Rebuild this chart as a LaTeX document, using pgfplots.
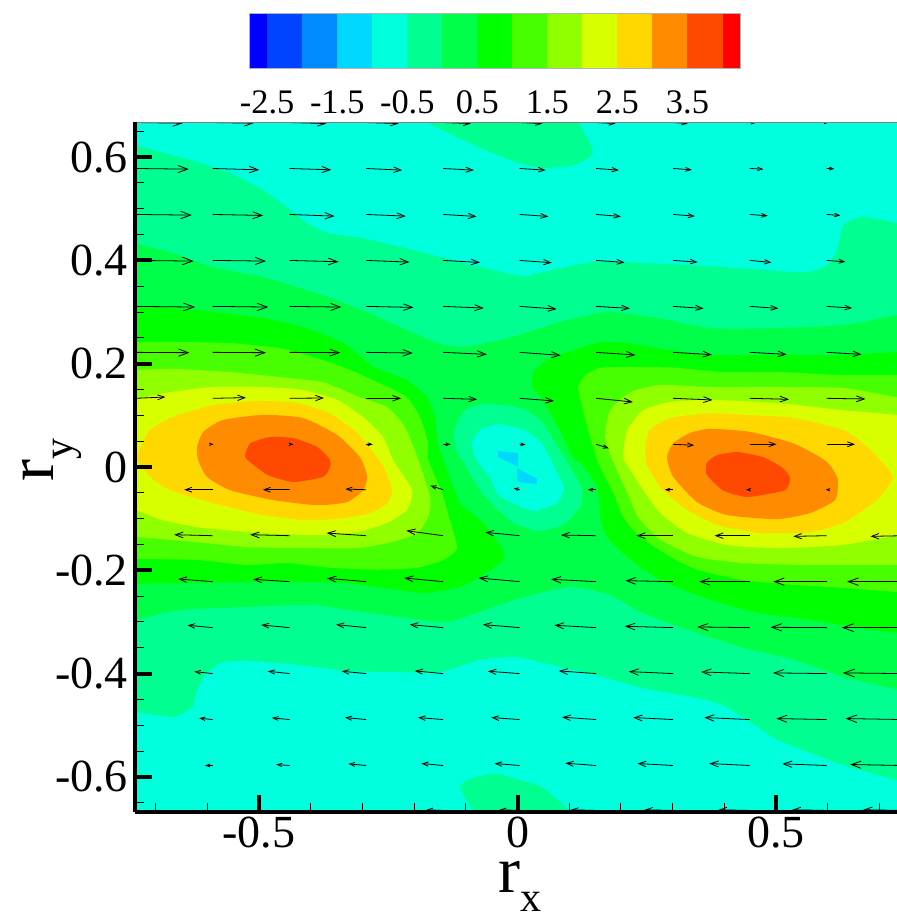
\documentclass[border=0pt]{standalone}
\usepackage{fontspec}
\setmainfont{Liberation Serif}
\usepackage{pgfplots}
\pgfplotsset{compat=1.18}
\usepackage{pgfplotstable}
\usetikzlibrary{arrows.meta}
\definecolor{c1}{HTML}{0000FF}\definecolor{c2}{HTML}{0044FF}\definecolor{c3}{HTML}{008CFF}
\definecolor{c4}{HTML}{00D8FF}\definecolor{c5}{HTML}{00FFDD}\definecolor{c6}{HTML}{00FF90}
\definecolor{c7}{HTML}{00FF48}\definecolor{c8}{HTML}{00FF00}\definecolor{c9}{HTML}{48FF00}
\definecolor{c10}{HTML}{90FF00}\definecolor{c11}{HTML}{D8FF00}\definecolor{c12}{HTML}{FFD800}
\definecolor{c13}{HTML}{FF8C00}\definecolor{c14}{HTML}{FF4800}\definecolor{c15}{HTML}{FF0000}
\pgfplotstableread{
x y u v
-0.738 0.667 140 -2
-0.590 0.667 123 -2
-0.441 0.667 110 -3
-0.293 0.667 97 -3
-0.144 0.667 83 -3
0.004 0.667 68 -3
0.152 0.667 58 -3
0.301 0.667 43 -3
0.449 0.667 18 -1
0.598 0.667 5 0
-0.738 0.578 158 -2
-0.590 0.578 140 -4
-0.441 0.578 125 -4
-0.293 0.578 108 -5
-0.144 0.578 92 -5
0.004 0.578 78 -5
0.152 0.578 68 -5
0.301 0.578 56 -4
0.449 0.578 41 -2
0.598 0.578 23 -1
-0.738 0.489 167 -2
-0.590 0.489 152 -3
-0.441 0.489 135 -5
-0.293 0.489 119 -5
-0.144 0.489 100 -6
0.004 0.489 86 -6
0.152 0.489 74 -6
0.301 0.489 65 -5
0.449 0.489 54 -4
0.598 0.489 41 -3
-0.738 0.400 173 -2
-0.590 0.400 160 -2
-0.441 0.400 147 -4
-0.293 0.400 130 -5
-0.144 0.400 110 -6
0.004 0.400 96 -7
0.152 0.400 85 -6
0.301 0.400 73 -5
0.449 0.400 65 -6
0.598 0.400 56 -4
-0.738 0.311 177 -2
-0.590 0.311 167 -2
-0.441 0.311 155 -2
-0.293 0.311 142 -3
-0.144 0.311 122 -5
0.004 0.311 111 -8
0.152 0.311 101 -6
0.301 0.311 91 -6
0.449 0.311 86 -6
0.598 0.311 76 -5
-0.738 0.222 160 -1
-0.590 0.222 160 -1
-0.441 0.222 152 -1
-0.293 0.222 140 -2
-0.144 0.222 131 -6
0.004 0.222 123 -9
0.152 0.222 118 -8
0.301 0.222 116 -7
0.449 0.222 111 -6
0.598 0.222 104 -6
-0.738 0.133 88 4
-0.590 0.133 100 2
-0.441 0.133 103 1
-0.293 0.133 105 0
-0.144 0.133 102 -3
0.004 0.133 103 -8
0.152 0.133 110 -11
0.301 0.133 118 -5
0.449 0.133 118 -3
0.598 0.133 116 -2
-0.590 0.044 3 0
-0.441 0.044 12 0
-0.293 0.044 20 0
-0.144 0.044 23 0
0.004 0.044 18 -1
0.152 0.044 38 -12
0.301 0.044 63 -3
0.449 0.044 80 0
0.598 0.044 85 0
-0.590 -0.044 -85 0
-0.441 -0.044 -80 0
-0.293 -0.044 -62 2
-0.144 -0.044 -38 12
0.004 -0.044 -18 5
0.152 -0.044 -25 0
0.301 -0.044 -25 0
0.449 -0.044 -11 0
0.598 -0.044 -3 0
-0.590 -0.133 -115 3
-0.441 -0.133 -118 3
-0.293 -0.133 -118 8
-0.144 -0.133 -110 15
0.004 -0.133 -103 10
0.152 -0.133 -105 2
0.301 -0.133 -110 0
0.449 -0.133 -105 0
0.598 -0.133 -100 -2
0.746 -0.133 -98 -2
-0.590 -0.222 -103 8
-0.441 -0.222 -110 7
-0.293 -0.222 -117 10
-0.144 -0.222 -117 11
0.004 -0.222 -123 11
0.152 -0.222 -135 7
0.301 -0.222 -143 3
0.449 -0.222 -151 0
0.598 -0.222 -160 0
0.746 -0.222 -168 0
-0.590 -0.311 -75 7
-0.441 -0.311 -85 8
-0.293 -0.311 -90 9
-0.144 -0.311 -100 9
0.004 -0.311 -110 9
0.152 -0.311 -125 7
0.301 -0.311 -145 4
0.449 -0.311 -157 2
0.598 -0.311 -168 1
0.746 -0.311 -184 0
-0.590 -0.400 -55 6
-0.441 -0.400 -65 7
-0.293 -0.400 -73 7
-0.144 -0.400 -85 8
0.004 -0.400 -95 7
0.152 -0.400 -112 8
0.301 -0.400 -133 6
0.449 -0.400 -146 5
0.598 -0.400 -161 2
0.746 -0.400 -181 2
-0.590 -0.489 -40 4
-0.441 -0.489 -53 5
-0.293 -0.489 -63 6
-0.144 -0.489 -75 6
0.004 -0.489 -85 6
0.152 -0.489 -102 7
0.301 -0.489 -120 6
0.449 -0.489 -136 6
0.598 -0.489 -151 3
0.746 -0.489 -173 3
-0.590 -0.578 -23 0
-0.441 -0.578 -40 3
-0.293 -0.578 -53 5
-0.144 -0.578 -65 6
0.004 -0.578 -75 6
0.152 -0.578 -92 7
0.301 -0.578 -107 6
0.449 -0.578 -121 6
0.598 -0.578 -133 5
0.746 -0.578 -159 3
-0.144 -0.665 -50 2
0.004 -0.665 -60 2
0.152 -0.665 -75 2
0.301 -0.665 -85 2
0.449 -0.665 -93 2
0.598 -0.665 -103 2
0.746 -0.665 -120 2
}\arrowdata
\pgfplotsset{lev/.style={fill=#1,draw=none,smooth cycle,tension=0.35}}
\begin{document}
\begin{tikzpicture}
\useasboundingbox (0,0) rectangle (448.5pt,457.5pt);
\begin{axis}[
  at={(67.5pt,51.5pt)},anchor=south west,
  scale only axis,width=381pt,height=345pt,
  xmin=-0.740,xmax=0.734,ymin=-0.668,ymax=0.668,
  axis x line*=bottom,axis y line*=left,
  axis line style={line width=2pt,-},
  axis on top,
  tick align=inside,
  xtick={-0.5,0,0.5},xticklabels={-0.5,0,0.5},
  ytick={-0.6,-0.4,-0.2,0,0.2,0.4,0.6},yticklabels={-0.6,-0.4,-0.2,0,0.2,0.4,0.6},
  minor xtick={-0.7,-0.6,-0.4,-0.3,-0.2,-0.1,0.1,0.2,0.3,0.4,0.6,0.7},
  minor ytick={-0.65,-0.55,-0.5,-0.45,-0.35,-0.3,-0.25,-0.15,-0.1,-0.05,0.05,0.1,0.15,0.25,0.3,0.35,0.45,0.5,0.55,0.65},
  major tick length=8.5pt,minor tick length=4.5pt,
  major tick style={line width=2pt,black},
  minor tick style={line width=0.5pt,black},
  ticklabel style={font=\fontsize{23}{26}\selectfont},
  xticklabel style={yshift=1pt},
  yticklabel style={xshift=0pt},
  xlabel={\fontsize{33}{33}\selectfont r\raisebox{-9.5pt}{\fontsize{21}{21}\selectfont x}},
  ylabel={\fontsize{33}{33}\selectfont r\raisebox{-9.5pt}{\fontsize{21}{21}\selectfont y}},
  xlabel style={at={(axis description cs:0.476,-0.116)},anchor=base west,inner sep=0pt},
  ylabel style={at={(axis description cs:-0.1076,0.478)},anchor=base west,inner sep=0pt},
]
% background level
\addplot[fill=c5,draw=none] coordinates {(-0.80,-0.70)(0.80,-0.70)(0.80,0.70)(-0.80,0.70)} --cycle;
% level c6
\addplot[lev=c6] coordinates {(-0.74,0.623)(-0.633,0.594)(-0.556,0.569)(-0.492,0.536)(-0.446,0.503)(-0.407,0.472)(-0.368,0.453)(-0.299,0.443)(-0.202,0.420)(-0.105,0.395)(0.005,0.370)(0.038,0.375)(0.146,0.397)(0.243,0.395)(0.372,0.389)(0.552,0.377)(0.599,0.391)(0.618,0.420)(0.630,0.468)(0.668,0.484)(0.734,0.472)(0.79,0.462)(0.86,0)(0.79,-0.615)(0.734,-0.606)(0.630,-0.577)(0.502,-0.528)(0.450,-0.493)(0.397,-0.461)(0.347,-0.447)(0.243,-0.428)(0.146,-0.402)(0.049,-0.379)(-0.001,-0.368)(-0.073,-0.373)(-0.150,-0.397)(-0.233,-0.397)(-0.330,-0.395)(-0.426,-0.383)(-0.523,-0.375)(-0.575,-0.379)(-0.608,-0.406)(-0.624,-0.445)(-0.630,-0.466)(-0.668,-0.484)(-0.74,-0.474)(-0.79,-0.47)(-0.86,0)(-0.79,0.635)};
\addplot[lev=c6] coordinates {(-0.21,0.70)(-0.175,0.668)(-0.105,0.633)(-0.040,0.604)(0.005,0.588)(0.049,0.579)(0.107,0.584)(0.144,0.604)(0.140,0.627)(0.117,0.668)(0.10,0.70)};
\addplot[lev=c6] coordinates {(-0.111,-0.621)(-0.078,-0.600)(-0.040,-0.594)(0.005,-0.606)(0.049,-0.621)(0.098,-0.664)(0.13,-0.70)(-0.05,-0.70)};
% level c7
\addplot[lev=c7] coordinates {(-0.74,0.433)(-0.666,0.414)(-0.589,0.387)(-0.492,0.368)(-0.426,0.348)(-0.349,0.323)(-0.279,0.294)(-0.214,0.265)(-0.156,0.240)(-0.105,0.232)(-0.053,0.242)(-0.005,0.253)(0.082,0.281)(0.173,0.300)(0.276,0.288)(0.372,0.269)(0.502,0.269)(0.630,0.275)(0.734,0.294)(0.79,0.304)(0.86,0)(0.79,-0.44)(0.734,-0.431)(0.630,-0.406)(0.533,-0.373)(0.436,-0.350)(0.339,-0.319)(0.243,-0.283)(0.179,-0.248)(0.107,-0.232)(0.049,-0.242)(-0.005,-0.257)(-0.053,-0.273)(-0.136,-0.300)(-0.214,-0.292)(-0.299,-0.281)(-0.401,-0.267)(-0.523,-0.271)(-0.653,-0.277)(-0.74,-0.296)(-0.79,-0.30)(-0.86,0)(-0.79,0.44)};
% level c8
\addplot[lev=c8] coordinates {(-0.74,0.313)(-0.620,0.304)(-0.492,0.288)(-0.415,0.271)(-0.337,0.240)(-0.279,0.194)(-0.214,0.168)(-0.175,0.135)(-0.160,0.097)(-0.154,0.046)(-0.140,0.004)(-0.111,-0.070)(-0.067,-0.108)(-0.028,-0.161)(-0.028,-0.180)(-0.067,-0.209)(-0.111,-0.232)(-0.183,-0.244)(-0.260,-0.234)(-0.337,-0.224)(-0.426,-0.223)(-0.523,-0.223)(-0.74,-0.226)(-0.79,-0.226)(-0.86,0.04)(-0.79,0.313)};
\addplot[lev=c8] coordinates {(0.734,0.223)(0.630,0.217)(0.502,0.217)(0.386,0.217)(0.295,0.226)(0.212,0.240)(0.160,0.242)(0.107,0.226)(0.057,0.207)(0.030,0.182)(0.028,0.155)(0.049,0.130)(0.078,0.077)(0.107,0.019)(0.125,0.004)(0.154,-0.039)(0.160,-0.097)(0.173,-0.135)(0.212,-0.174)(0.276,-0.219)(0.372,-0.257)(0.469,-0.283)(0.566,-0.296)(0.662,-0.312)(0.734,-0.321)(0.79,-0.325)(0.86,-0.05)(0.79,0.223)};
% level c9
\addplot[lev=c9] coordinates {(-0.74,0.242)(-0.653,0.242)(-0.556,0.240)(-0.459,0.230)(-0.388,0.211)(-0.324,0.188)(-0.260,0.159)(-0.214,0.135)(-0.189,0.097)(-0.173,0.046)(-0.173,0.014)(-0.146,-0.050)(-0.131,-0.103)(-0.117,-0.157)(-0.144,-0.180)(-0.194,-0.195)(-0.272,-0.199)(-0.363,-0.195)(-0.446,-0.186)(-0.523,-0.190)(-0.620,-0.180)(-0.74,-0.178)(-0.79,-0.178)(-0.86,0.03)(-0.79,0.242)};
\addplot[lev=c9] coordinates {(0.734,0.178)(0.630,0.178)(0.502,0.184)(0.397,0.184)(0.308,0.192)(0.231,0.194)(0.160,0.192)(0.131,0.178)(0.117,0.155)(0.125,0.116)(0.140,0.058)(0.156,0.008)(0.185,-0.050)(0.204,-0.097)(0.237,-0.135)(0.295,-0.174)(0.347,-0.199)(0.436,-0.219)(0.533,-0.228)(0.630,-0.234)(0.734,-0.242)(0.79,-0.244)(0.86,-0.03)(0.79,0.178)};
% level c10
\addplot[lev=c10] coordinates {(-0.74,0.188)(-0.666,0.190)(-0.556,0.184)(-0.459,0.174)(-0.376,0.164)(-0.305,0.135)(-0.252,0.116)(-0.218,0.077)(-0.194,0.019)(-0.169,-0.058)(-0.173,-0.097)(-0.194,-0.128)(-0.241,-0.145)(-0.310,-0.157)(-0.415,-0.157)(-0.523,-0.155)(-0.628,-0.145)(-0.74,-0.135)(-0.79,-0.13)(-0.86,0.03)(-0.79,0.185)};
\addplot[lev=c10] coordinates {(0.734,0.135)(0.630,0.153)(0.502,0.155)(0.372,0.155)(0.276,0.159)(0.218,0.145)(0.179,0.110)(0.169,0.058)(0.183,0.014)(0.212,-0.050)(0.233,-0.097)(0.276,-0.141)(0.347,-0.174)(0.436,-0.186)(0.566,-0.190)(0.734,-0.190)(0.79,-0.190)(0.86,-0.03)(0.79,0.125)};
% level c11
\addplot[lev=c11] coordinates {(-0.74,0.130)(-0.686,0.143)(-0.589,0.155)(-0.492,0.155)(-0.415,0.149)(-0.349,0.130)(-0.299,0.097)(-0.260,0.058)(-0.241,0.014)(-0.204,-0.045)(-0.214,-0.083)(-0.252,-0.108)(-0.310,-0.126)(-0.388,-0.132)(-0.492,-0.128)(-0.608,-0.118)(-0.686,-0.103)(-0.74,-0.083)(-0.79,-0.07)(-0.86,0.02)(-0.79,0.12)};
\addplot[lev=c11] coordinates {(0.734,0.101)(0.630,0.110)(0.502,0.124)(0.372,0.130)(0.295,0.126)(0.243,0.110)(0.212,0.072)(0.204,0.019)(0.218,-0.006)(0.243,-0.045)(0.276,-0.089)(0.328,-0.128)(0.405,-0.151)(0.502,-0.157)(0.630,-0.151)(0.734,-0.132)(0.79,-0.125)(0.86,-0.02)(0.79,0.095)};
% level c12
\addplot[lev=c12] coordinates {(-0.733,0.030)(-0.711,0.072)(-0.666,0.097)(-0.589,0.120)(-0.504,0.128)(-0.426,0.124)(-0.363,0.104)(-0.310,0.066)(-0.272,0.019)(-0.256,-0.006)(-0.243,-0.045)(-0.252,-0.070)(-0.285,-0.089)(-0.337,-0.099)(-0.407,-0.103)(-0.492,-0.093)(-0.589,-0.070)(-0.672,-0.045)(-0.711,-0.019)(-0.736,0.014)};
\addplot[lev=c12] coordinates {(0.630,0.072)(0.533,0.095)(0.436,0.101)(0.372,0.104)(0.295,0.095)(0.256,0.072)(0.247,0.039)(0.250,0.004)(0.281,-0.045)(0.328,-0.083)(0.386,-0.112)(0.469,-0.128)(0.566,-0.126)(0.630,-0.108)(0.695,-0.064)(0.726,-0.021)(0.701,0.014)(0.672,0.043)};
% level c13
\addplot[lev=c13] coordinates {(-0.620,0.039)(-0.608,0.068)(-0.570,0.091)(-0.492,0.101)(-0.415,0.095)(-0.349,0.062)(-0.305,0.019)(-0.291,-0.019)(-0.299,-0.045)(-0.330,-0.068)(-0.388,-0.074)(-0.473,-0.064)(-0.556,-0.045)(-0.601,-0.019)(-0.618,0.014)};
\addplot[lev=c13] coordinates {(0.289,0.019)(0.301,0.046)(0.334,0.066)(0.372,0.074)(0.450,0.068)(0.533,0.046)(0.585,0.019)(0.604,0.004)(0.620,-0.025)(0.614,-0.064)(0.566,-0.089)(0.502,-0.101)(0.405,-0.093)(0.347,-0.068)(0.301,-0.019)};
% level c14
\addplot[lev=c14] coordinates {(-0.527,0.023)(-0.517,0.046)(-0.479,0.058)(-0.434,0.056)(-0.388,0.039)(-0.363,0.014)(-0.363,0)(-0.376,-0.019)(-0.434,-0.029)(-0.484,-0.015)(-0.523,0.014)};
\addplot[lev=c14] coordinates {(0.366,0.008)(0.386,0.023)(0.425,0.029)(0.475,0.019)(0.513,-0.002)(0.527,-0.021)(0.517,-0.045)(0.444,-0.058)(0.397,-0.045)(0.366,-0.015)};
% central low
\addplot[lev=c6] coordinates {(-0.067,0.122)(-0.102,0.110)(-0.121,0.077)(-0.121,0.039)(-0.096,-0.006)(-0.073,-0.045)(-0.044,-0.077)(-0.011,-0.106)(0.038,-0.124)(0.088,-0.112)(0.121,-0.077)(0.125,-0.045)(0.102,0)(0.073,0.046)(0.044,0.091)(-0.001,0.116)};
\addplot[lev=c5] coordinates {(-0.038,0.083)(-0.073,0.072)(-0.088,0.046)(-0.082,0.017)(-0.053,-0.021)(-0.038,-0.054)(0.005,-0.077)(0.034,-0.085)(0.076,-0.070)(0.090,-0.041)(0.076,-0.010)(0.047,0.046)(0.011,0.072)};
\addplot[fill=c4,draw=none] coordinates {(-0.038,0.031)(0.001,0.027)(0.001,0.001)(-0.038,0.019)} --cycle;
\addplot[fill=c4,draw=none] coordinates {(-0.001,-0.002)(0.038,-0.023)(0.038,-0.033)(-0.001,-0.029)} --cycle;
% vectors
\addplot[black,line width=0.4pt,
  point meta={sqrt(\thisrow{u}^2+\thisrow{v}^2)},
  quiver={u=\thisrow{u},v=\thisrow{v},scale arrows=0.000645,
    every arrow/.append style={/utils/exec={\pgfmathsetmacro\hl{1.6+3.8*\pgfplotspointmetatransformed/1000}\pgfmathsetmacro\hw{1.2+2.8*\pgfplotspointmetatransformed/1000}},
      -{Straight Barb[length=\hl pt,width=\hw pt]}}}]
  table[x=x,y=y] {\arrowdata};
\draw[gray,line width=0.5pt] (rel axis cs:0,1) -- (rel axis cs:1,1);
\end{axis}
% colour bar
\begin{axis}[
  at={(124.5pt,423.5pt)},anchor=south west,
  scale only axis,width=245.5pt,height=27.5pt,
  xmin=-2.76,xmax=4.25,ymin=0,ymax=1,
  ytick=\empty,
  xtick={-2.5,-1.5,-0.5,0.5,1.5,2.5,3.5},xticklabels={-2.5,-1.5,-0.5,0.5,1.5,2.5,3.5},
  major tick length=0pt,
  axis line style={line width=0.4pt,gray!60},
  axis on top,
  ticklabel style={font=\fontsize{17.2}{20}\selectfont},
  xticklabel style={yshift=-8pt},
]
\addplot[fill=c1,draw=none] coordinates {(-2.76,0)(-2.5,0)(-2.5,1)(-2.76,1)} --cycle;
\addplot[fill=c2,draw=none] coordinates {(-2.5,0)(-2,0)(-2,1)(-2.5,1)} --cycle;
\addplot[fill=c3,draw=none] coordinates {(-2,0)(-1.5,0)(-1.5,1)(-2,1)} --cycle;
\addplot[fill=c4,draw=none] coordinates {(-1.5,0)(-1,0)(-1,1)(-1.5,1)} --cycle;
\addplot[fill=c5,draw=none] coordinates {(-1,0)(-0.5,0)(-0.5,1)(-1,1)} --cycle;
\addplot[fill=c6,draw=none] coordinates {(-0.5,0)(0,0)(0,1)(-0.5,1)} --cycle;
\addplot[fill=c7,draw=none] coordinates {(0,0)(0.5,0)(0.5,1)(0,1)} --cycle;
\addplot[fill=c8,draw=none] coordinates {(0.5,0)(1,0)(1,1)(0.5,1)} --cycle;
\addplot[fill=c9,draw=none] coordinates {(1,0)(1.5,0)(1.5,1)(1,1)} --cycle;
\addplot[fill=c10,draw=none] coordinates {(1.5,0)(2,0)(2,1)(1.5,1)} --cycle;
\addplot[fill=c11,draw=none] coordinates {(2,0)(2.5,0)(2.5,1)(2,1)} --cycle;
\addplot[fill=c12,draw=none] coordinates {(2.5,0)(3,0)(3,1)(2.5,1)} --cycle;
\addplot[fill=c13,draw=none] coordinates {(3,0)(3.5,0)(3.5,1)(3,1)} --cycle;
\addplot[fill=c14,draw=none] coordinates {(3.5,0)(4,0)(4,1)(3.5,1)} --cycle;
\addplot[fill=c15,draw=none] coordinates {(4,0)(4.25,0)(4.25,1)(4,1)} --cycle;
\end{axis}
\end{tikzpicture}
\end{document}
